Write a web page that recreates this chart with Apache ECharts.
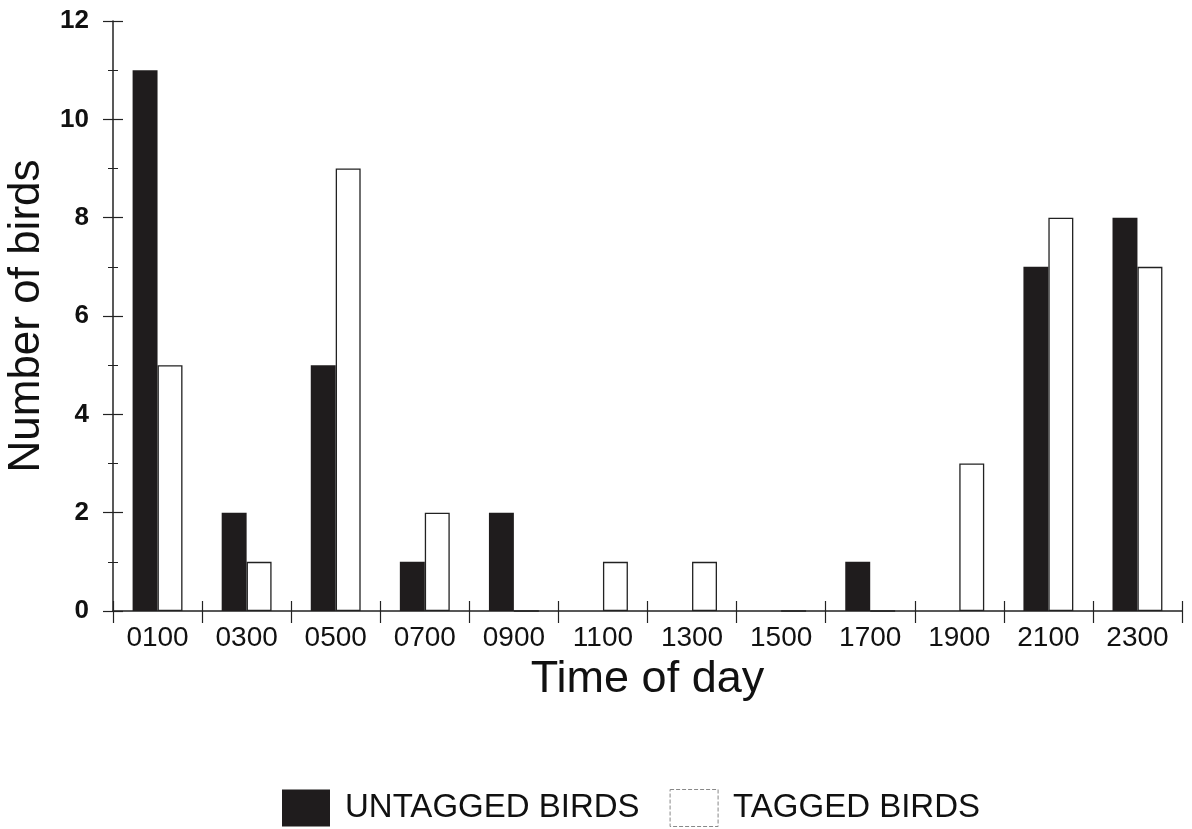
<!DOCTYPE html>
<html>
<head>
<meta charset="utf-8">
<script src="https://cdn.jsdelivr.net/npm/echarts@6/dist/echarts.min.js"></script>
<style>html,body{margin:0;padding:0;background:#fff;}#c{width:1192px;height:829px;}</style>
</head>
<body>
<div id="c"></div>
<script>
const categories = ['0100','0300','0500','0700','0900','1100','1300','1500','1700','1900','2100','2300'];
const untagged = [11, 2, 5, 1, 2, 0, 0, 0, 1, 0, 7, 8];
const tagged = [5, 1, 9, 2, 0, 1, 1, 0, 0, 3, 8, 7];
const yTicks = [0, 2, 4, 6, 8, 10, 12];

const chart = echarts.init(document.getElementById('c'));
const axisColor = '#222';
const font = "'Liberation Sans', Arial, sans-serif";
chart.setOption({
  animation: false,
  backgroundColor: '#fff',
  grid: { left: 113, right: 10, top: 21, bottom: 218, containLabel: false, outerBoundsMode: 'none' },
  legend: {
    left: 277, top: 784,
    itemWidth: 48, itemHeight: 37, itemGap: 30,
    icon: 'rect',
    textStyle: { fontFamily: font, fontSize: 33, color: '#111', padding: [0, 0, 0, 10] },
    data: ['UNTAGGED BIRDS', { name: 'TAGGED BIRDS', itemStyle: { borderColor: '#888', borderWidth: 1, borderType: 'dashed' } }]
  },
  xAxis: [{
    type: 'category',
    data: categories,
    name: 'Time of day',
    nameLocation: 'middle',
    nameGap: 46,
    nameTextStyle: { fontFamily: font, fontSize: 45, color: '#111' },
    axisLine: { lineStyle: { color: axisColor, width: 1.5 } },
    axisTick: { show: true, alignWithLabel: false, length: 12, lineStyle: { color: axisColor, width: 1.2 } },
    axisLabel: { fontFamily: font, fontSize: 28, color: '#111', margin: 13 }
  }, {
    type: 'category',
    data: categories,
    position: 'bottom',
    axisLine: { show: false },
    axisTick: { show: true, inside: true, length: 10, lineStyle: { color: axisColor, width: 1.2 } },
    axisLabel: { show: false }
  }],
  yAxis: [{
    type: 'value',
    min: yTicks[0], max: yTicks[yTicks.length - 1], interval: 2,
    name: 'Number of birds',
    nameLocation: 'middle',
    nameGap: 62,
    nameTextStyle: { fontFamily: font, fontSize: 44, color: '#111' },
    splitLine: { show: false },
    axisLine: { show: true, lineStyle: { color: axisColor, width: 1.5 } },
    axisTick: { show: true, length: 10, lineStyle: { color: axisColor, width: 1.2 } },
    minorTick: { show: true, splitNumber: 2, length: 5, lineStyle: { color: axisColor, width: 1 } },
    axisLabel: { fontFamily: font, fontSize: 26, fontWeight: 'bold', color: '#111', margin: 24 }
  }, {
    type: 'value',
    position: 'left',
    min: yTicks[0], max: yTicks[yTicks.length - 1], interval: 2,
    splitLine: { show: false },
    axisLine: { show: false },
    axisTick: { show: true, inside: true, length: 10, lineStyle: { color: axisColor, width: 1.2 } },
    minorTick: { show: true, splitNumber: 2, length: 5, lineStyle: { color: axisColor, width: 1 } },
    axisLabel: { show: false }
  }],
  series: [{
    name: 'UNTAGGED BIRDS',
    type: 'bar',
    data: untagged,
    barGap: '0%',
    barCategoryGap: '44%',
    itemStyle: { color: '#1f1c1d' }
  }, {
    name: 'TAGGED BIRDS',
    type: 'bar',
    data: tagged,
    barGap: '0%',
    barCategoryGap: '44%',
    itemStyle: { color: '#fff', borderColor: '#222', borderWidth: 1.3 }
  }]
});
</script>
</body>
</html>
